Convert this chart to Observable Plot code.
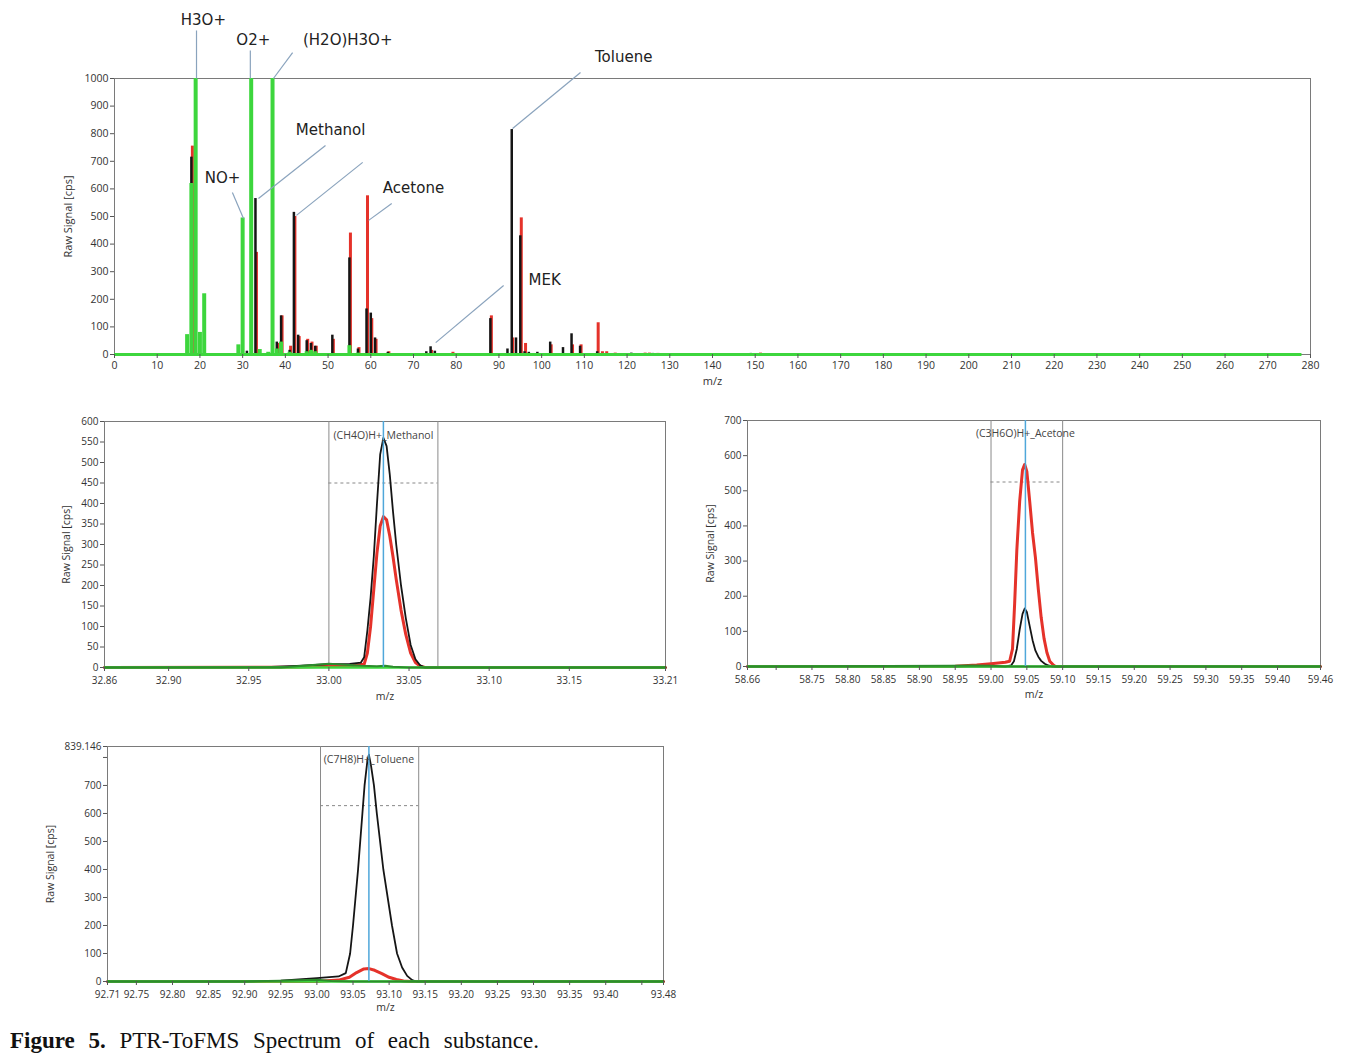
<!DOCTYPE html>
<html><head><meta charset="utf-8">
<script src="https://cdn.jsdelivr.net/npm/d3@7"></script>
<script src="https://cdn.jsdelivr.net/npm/@observablehq/plot@0.6"></script>
<style>
body{margin:0;background:#fff;width:1352px;height:1059px;position:relative;overflow:hidden;font-family:"Open Sans",sans-serif;}
.pane{position:absolute;}
#caption{position:absolute;left:10px;top:1028px;font-family:"Liberation Serif",serif;font-size:23px;word-spacing:8px;color:#111;white-space:nowrap}
</style></head><body>
<div id="top" class="pane" style="left:0;top:0"></div>
<div id="p1" class="pane" style="left:0;top:400px"></div>
<div id="p2" class="pane" style="left:690px;top:400px"></div>
<div id="p3" class="pane" style="left:0;top:725px"></div>
<div id="caption"><b>Figure 5.</b> PTR-ToFMS Spectrum of each substance.</div>
<script>
// ---------- Overview spectrum (integer m/z) ----------
const greenMz  = [17, 18, 19, 20, 21, 29, 30, 32, 34, 36, 37, 38, 39, 41, 45, 46, 47, 55, 57];
const greenVal = [72, 620, 1000, 80, 220, 35, 495, 1000, 18, 8, 1000, 20, 45, 8, 10, 15, 10, 32, 5];

const blackMz  = [18, 31, 33, 38, 39, 41, 42, 43, 45, 46, 47, 51, 55, 57, 59, 60, 61, 64, 73, 74, 75, 88, 92, 93, 94, 95, 96, 97, 99, 102, 105, 107, 109, 113, 121, 126, 149];
const blackVal = [715, 12, 565, 45, 140, 15, 515, 70, 50, 40, 30, 70, 350, 20, 165, 150, 60, 8, 10, 28, 12, 130, 20, 815, 60, 430, 10, 8, 8, 45, 25, 75, 30, 10, 5, 4, 4];

const redMz  = [18, 33, 38, 39, 41, 42, 43, 45, 46, 47, 51, 55, 57, 59, 60, 61, 64, 74, 79, 88, 93, 95, 96, 102, 107, 109, 113, 114, 115, 117, 124, 125, 127, 135, 147, 151];
const redVal = [755, 370, 40, 140, 30, 500, 65, 55, 45, 30, 55, 440, 25, 575, 130, 55, 10, 15, 8, 140, 60, 495, 40, 35, 35, 35, 115, 10, 10, 5, 5, 5, 4, 3, 3, 5];

const baselineMz = [0, 278];
const topXTicks = d3.range(0, 281, 10);
const topYTicks = d3.range(0, 1001, 100);

// annotation labels (data units: m/z, cps)
const annText  = ["H3O+", "O2+", "(H2O)H3O+", "Toluene", "Methanol", "NO+", "Acetone", "MEK"];
const annMz    = [20.8, 32.5, 54.6, 119.2, 50.6, 25.3, 70.0, 100.7];
const annVal   = [1210, 1138, 1138, 1076, 812, 638, 601, 268];
// leader lines
const leadX1 = [19.2, 31.8, 41.7, 109.1, 49.4, 58.1, 27.6, 64.9, 91.1];
const leadY1 = [1174, 1101, 1094, 1022, 757, 696, 587, 547, 250];
const leadX2 = [19.2, 31.8, 37.2, 93.2, 33.7, 42.6, 30.2, 59.5, 75.2];
const leadY2 = [1000, 1000, 1000, 819, 565, 504, 493, 486, 43];

// ---------- Methanol zoom ----------
const m1BlackMz = [32.86, 32.96, 32.98, 33.00, 33.013, 33.02, 33.022, 33.024, 33.026, 33.028, 33.030, 33.032, 33.034, 33.036, 33.038, 33.040, 33.042, 33.045, 33.048, 33.051, 33.054, 33.057, 33.060, 33.21];
const m1Black   = [0, 1, 4, 8, 9, 12, 25, 90, 170, 270, 400, 520, 560, 540, 470, 380, 300, 200, 120, 55, 20, 5, 0, 0];
const m1RedMz = [32.86, 32.98, 33.00, 33.015, 33.022, 33.024, 33.026, 33.028, 33.030, 33.032, 33.034, 33.036, 33.038, 33.040, 33.042, 33.045, 33.048, 33.051, 33.054, 33.057, 33.060, 33.21];
const m1Red   = [0, 1, 3, 5, 8, 35, 100, 190, 280, 345, 368, 360, 320, 270, 215, 140, 80, 35, 12, 3, 0, 0];
const m1GreenMz = [32.86, 32.97, 32.98, 32.99, 33.00, 33.01, 33.02, 33.03, 33.035, 33.04, 33.05, 33.21];
const m1Green   = [0, 0, 3, 6, 9, 7, 4, 3, 4, 2, 0, 0];
const m1XTicks = [32.86, 32.90, 32.95, 33.00, 33.05, 33.10, 33.15, 33.21];
const m1XLabels = ["32.86", "32.90", "32.95", "33.00", "33.05", "33.10", "33.15", "33.21"];
const m1YTicks = d3.range(0, 601, 50);
const m1YLabels = m1YTicks.map(String);

// ---------- Acetone zoom ----------
const m2RedMz = [58.66, 58.95, 58.98, 59.00, 59.02, 59.026, 59.030, 59.033, 59.036, 59.040, 59.044, 59.047, 59.050, 59.054, 59.058, 59.062, 59.066, 59.070, 59.074, 59.078, 59.082, 59.087, 59.09, 59.46];
const m2Red   = [0, 1, 4, 8, 12, 15, 50, 180, 330, 470, 560, 575, 555, 470, 380, 310, 220, 140, 80, 40, 15, 4, 0, 0];
const m2BlackMz = [58.66, 59.02, 59.028, 59.032, 59.036, 59.040, 59.044, 59.047, 59.050, 59.054, 59.058, 59.062, 59.066, 59.070, 59.075, 59.080, 59.085, 59.46];
const m2Black   = [0, 0, 3, 15, 50, 105, 150, 165, 155, 115, 75, 45, 28, 16, 8, 3, 0, 0];
const m2GreenMz = [58.66, 58.945, 58.97, 59.00, 59.02, 59.46];
const m2Green   = [0, 2, 3, 2, 0, 0];
const m2XTicks = [58.66, 58.70, 58.75, 58.80, 58.85, 58.90, 58.95, 59.00, 59.05, 59.10, 59.15, 59.20, 59.25, 59.30, 59.35, 59.40, 59.46];
const m2XLabels = ["58.66", "", "58.75", "58.80", "58.85", "58.90", "58.95", "59.00", "59.05", "59.10", "59.15", "59.20", "59.25", "59.30", "59.35", "59.40", "59.46"];
const m2YTicks = d3.range(0, 701, 100);
const m2YLabels = m2YTicks.map(String);

// ---------- Toluene zoom ----------
const m3BlackMz = [92.71, 92.90, 92.95, 93.00, 93.03, 93.04, 93.046, 93.050, 93.057, 93.063, 93.066, 93.070, 93.072, 93.075, 93.079, 93.083, 93.092, 93.104, 93.111, 93.118, 93.125, 93.132, 93.138, 93.48];
const m3Black   = [0, 0, 3, 12, 18, 30, 100, 200, 400, 600, 700, 790, 810, 770, 700, 600, 400, 200, 100, 50, 20, 5, 0, 0];
const m3RedMz = [92.71, 93.00, 93.03, 93.045, 93.055, 93.065, 93.072, 93.08, 93.09, 93.10, 93.11, 93.12, 93.13, 93.48];
const m3Red   = [0, 0, 5, 15, 32, 45, 46, 40, 28, 15, 7, 2, 0, 0];
const m3GreenMz = [92.71, 92.90, 92.95, 93.00, 93.02, 93.05, 93.48];
const m3Green   = [0, 0, 3, 6, 2, 0, 0];
const m3XTicks = [92.71, 92.75, 92.80, 92.85, 92.90, 92.95, 93.00, 93.05, 93.10, 93.15, 93.20, 93.25, 93.30, 93.35, 93.40, 93.45, 93.48];
const m3XLabels = ["92.71", "92.75", "92.80", "92.85", "92.90", "92.95", "93.00", "93.05", "93.10", "93.15", "93.20", "93.25", "93.30", "93.35", "93.40", "", "93.48"];
const m3YTicks = [0, 100, 200, 300, 400, 500, 600, 700, 800, 839.146];
const m3YLabels = ["0", "100", "200", "300", "400", "500", "600", "700", "", "839.146"];

// peak windows
const panelNames  = ["(CH4O)H+_Methanol", "(C3H6O)H+_Acetone", "(C7H8)H+_Toluene"];
const panelCenter = [33.034, 59.048, 93.072];
const panelLo     = [33.000, 59.000, 93.005];
const panelHi     = [33.068, 59.100, 93.141];
const panelHalf   = [450, 525, 628];

const GREEN = "#3dd63d", RED = "#e5322a", BLACK = "#151515", BLUE = "#4fa7da", LEAD = "#8aa3bd", FRAME = "#7a7a7a";
const zip = (a, b) => a.map((x, i) => ({x, y: b[i]}));

// ---------- top chart ----------
const topPlot = Plot.plot({
  width: 1352, height: 395,
  marginLeft: 114, marginRight: 42, marginTop: 78, marginBottom: 41,
  x: {domain: [0, 280]},
  y: {domain: [0, 1000]},
  style: {fontFamily: "Open Sans", fontSize: "10.5px", color: "#333", background: "transparent"},
  marks: [
    Plot.frame({stroke: FRAME}),
    Plot.ruleX(zip(redMz, redVal), {x: "x", y1: 0, y2: "y", stroke: RED, strokeWidth: 3, dx: 1}),
    Plot.ruleX(zip(blackMz, blackVal), {x: "x", y1: 0, y2: "y", stroke: BLACK, strokeWidth: 2.5}),
    Plot.ruleX(zip(greenMz, greenVal), {x: "x", y1: 0, y2: "y", stroke: GREEN, strokeWidth: 4}),
    Plot.ruleY([0], {x1: baselineMz[0], x2: baselineMz[1], stroke: GREEN, strokeWidth: 3}),
    Plot.link(leadX1.map((d, i) => i), {x1: i => leadX1[i], y1: i => leadY1[i], x2: i => leadX2[i], y2: i => leadY2[i], stroke: LEAD, strokeWidth: 1.2}),
    Plot.text(annText, {x: (d, i) => annMz[i], y: (d, i) => annVal[i], text: d => d, fontFamily: "DejaVu Sans", fontSize: 15, fill: "#222", style: "letter-spacing:0.3px"}),
    Plot.axisX({ticks: topXTicks, tickFormat: d3.format("d"), tickSize: 4, tickPadding: 3, label: null, stroke: "#555"}),
    Plot.axisY({ticks: topYTicks, tickFormat: d3.format("d"), tickSize: 4, tickPadding: 2, label: null, stroke: "#555"}),
    Plot.text(["m/z"], {frameAnchor: "bottom", dy: 30, fontSize: 11, fill: "#333"}),
    Plot.text(["Raw Signal [cps]"], {frameAnchor: "left", textAnchor: "middle", dx: -46, rotate: -90, fontSize: 11, fill: "#333"})
  ]
});
document.getElementById("top").append(topPlot);

// ---------- zoom panels ----------
function panel(el, o) {
  const idx = o.k;
  const p = Plot.plot({
    width: o.width, height: o.height,
    marginLeft: o.ml, marginRight: o.mr, marginTop: o.mt, marginBottom: o.mb,
    x: {domain: o.xdom},
    y: {domain: o.ydom},
    style: {fontFamily: "Open Sans", fontSize: "10px", color: "#333", background: "transparent"},
    marks: [
      Plot.frame({stroke: FRAME}),
      Plot.ruleX([panelLo[idx], panelHi[idx]], {stroke: "#8a8a8a", strokeWidth: 1}),
      Plot.ruleY([panelHalf[idx]], {x1: panelLo[idx], x2: panelHi[idx], stroke: "#888", strokeDasharray: "3,3"}),
      Plot.line(zip(o.rx, o.ry), {x: "x", y: "y", stroke: RED, strokeWidth: 3}),
      Plot.line(zip(o.bx, o.by), {x: "x", y: "y", stroke: BLACK, strokeWidth: 1.8}),
      Plot.ruleY([0], {x1: o.xdom[0], x2: o.xdom[1], stroke: GREEN, strokeWidth: 2.5}),
      Plot.line(zip(o.gx, o.gy), {x: "x", y: "y", stroke: "#2c8c2c", strokeWidth: 2}),
      Plot.ruleX([panelCenter[idx]], {stroke: BLUE, strokeWidth: 1.5}),
      Plot.text([panelNames[idx]], {x: panelCenter[idx], frameAnchor: "top", dy: o.ldy, fontSize: 10.5, fill: "#444"}),
      Plot.axisX({ticks: o.xt, tickFormat: (d) => o.xl[o.xt.indexOf(d)], tickSize: 4, tickPadding: 5, label: null, stroke: "#555"}),
      Plot.axisY({ticks: o.yt, tickFormat: (d) => o.yl[o.yt.indexOf(d)], tickSize: 4, tickPadding: 2, label: null, stroke: "#555"}),
      Plot.text(["m/z"], {frameAnchor: "bottom", dy: o.mzdy, fontSize: 10.5, fill: "#333"}),
      Plot.text(["Raw Signal [cps]"], {frameAnchor: "left", textAnchor: "middle", dx: o.ydx, rotate: -90, fontSize: 10.5, fill: "#333"})
    ]
  });
  document.getElementById(el).append(p);
}

panel("p1", {k: 0, width: 690, height: 310, ml: 104, mr: 25, mt: 21, mb: 43,
  xdom: [32.86, 33.21], ydom: [0, 600], xt: m1XTicks, xl: m1XLabels, yt: m1YTicks, yl: m1YLabels,
  bx: m1BlackMz, by: m1Black, rx: m1RedMz, ry: m1Red, gx: m1GreenMz, gy: m1Green, mzdy: 32, ydx: -38, ldy: 10});
panel("p2", {k: 1, width: 662, height: 310, ml: 57, mr: 32, mt: 20, mb: 44,
  xdom: [58.66, 59.46], ydom: [0, 700], xt: m2XTicks, xl: m2XLabels, yt: m2YTicks, yl: m2YLabels,
  bx: m2BlackMz, by: m2Black, rx: m2RedMz, ry: m2Red, gx: m2GreenMz, gy: m2Green, mzdy: 31, ydx: -37, ldy: 9});
panel("p3", {k: 2, width: 690, height: 295, ml: 107, mr: 27, mt: 21, mb: 39,
  xdom: [92.71, 93.48], ydom: [0, 839.146], xt: m3XTicks, xl: m3XLabels, yt: m3YTicks, yl: m3YLabels,
  bx: m3BlackMz, by: m3Black, rx: m3RedMz, ry: m3Red, gx: m3GreenMz, gy: m3Green, mzdy: 29, ydx: -57, ldy: 9});
</script>
</body></html>
